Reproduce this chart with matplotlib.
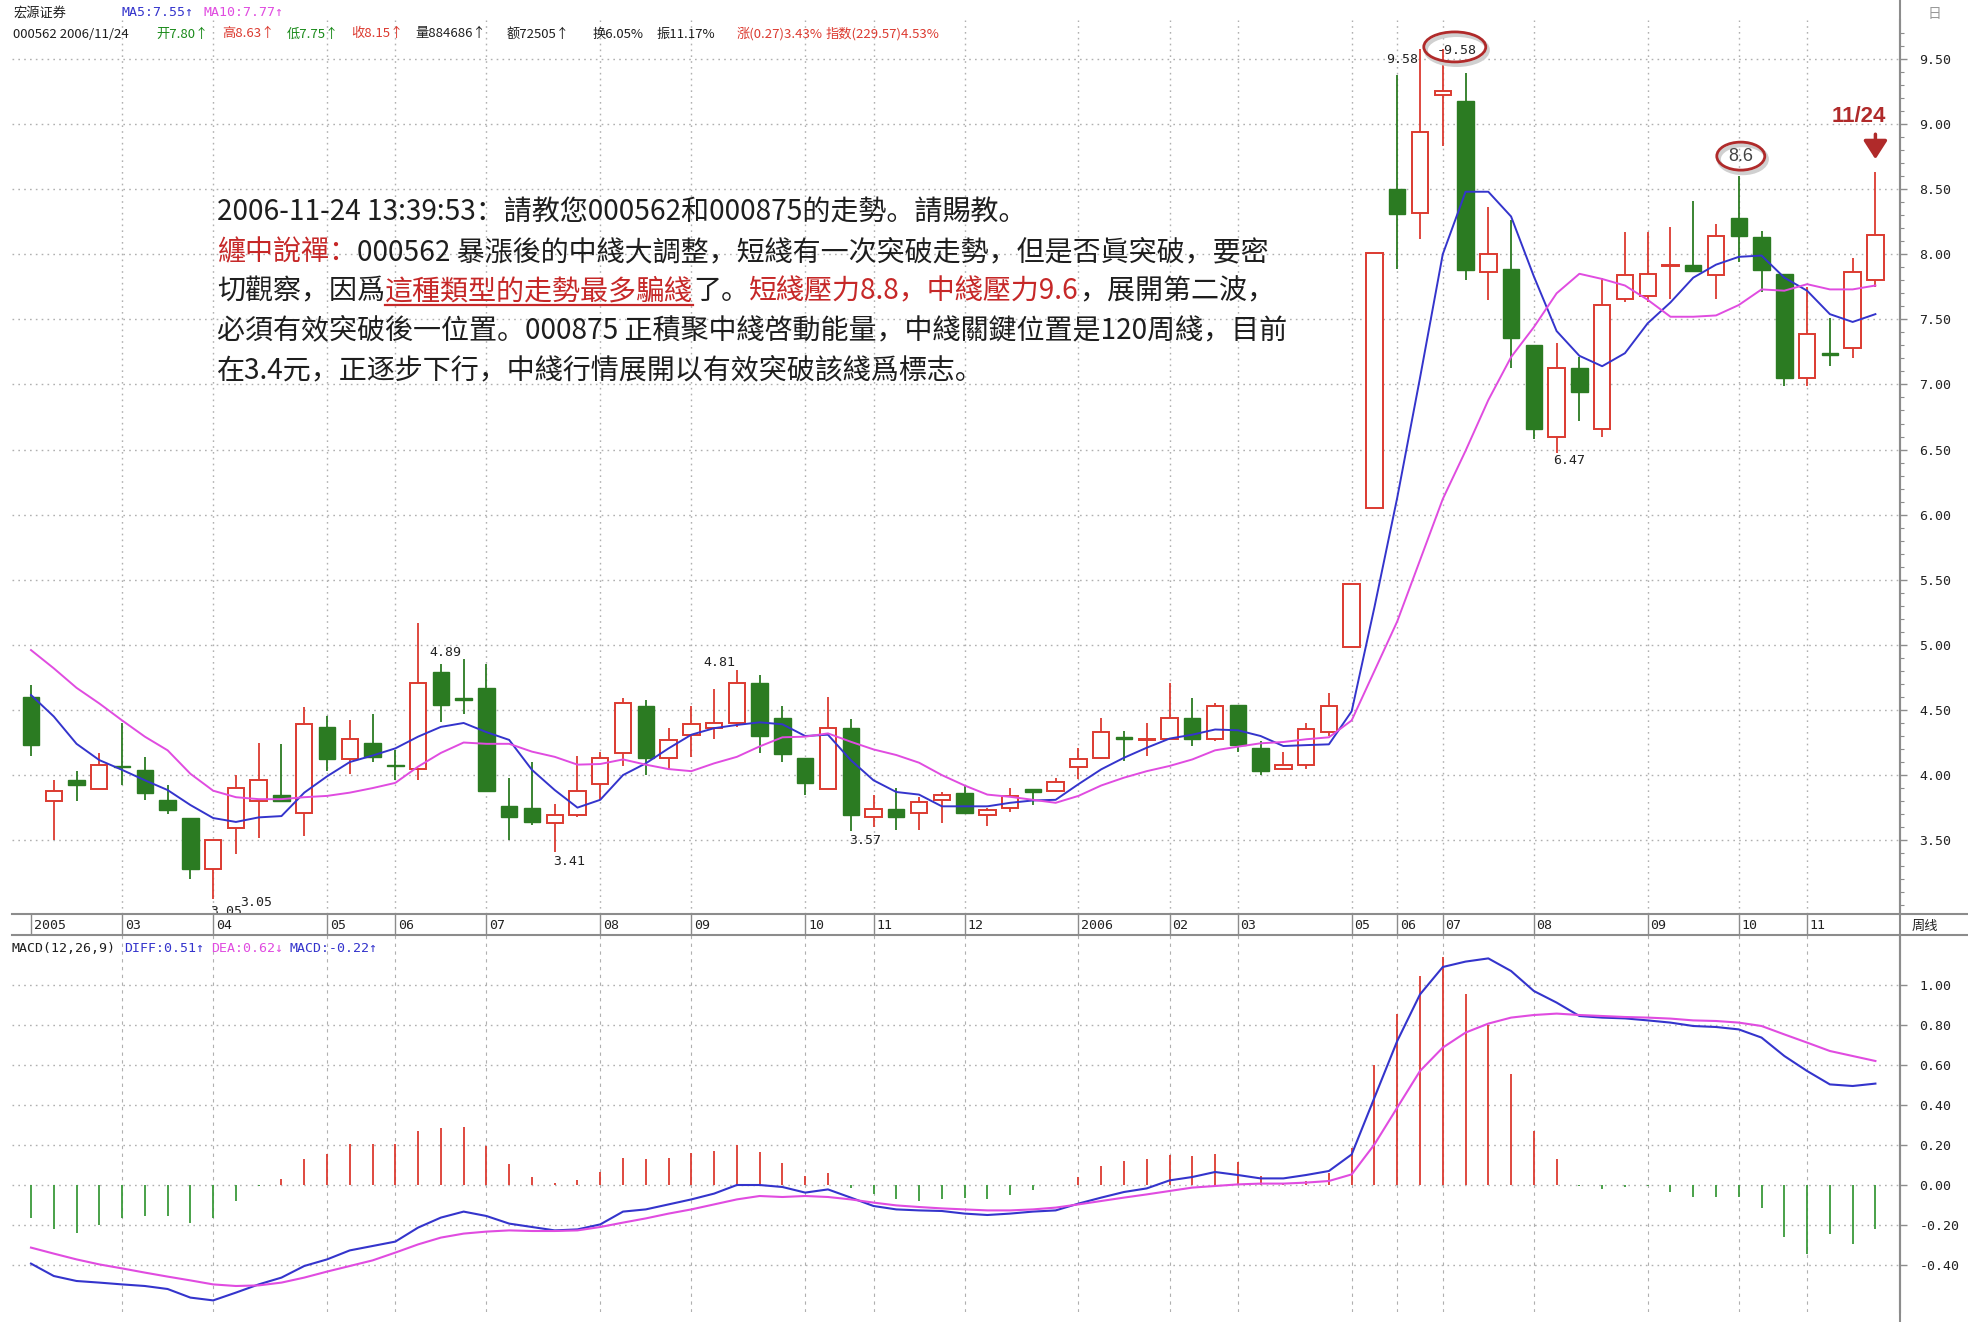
import numpy as np
import matplotlib
matplotlib.use("Agg")
import matplotlib.pyplot as plt
from matplotlib.patches import Ellipse
from matplotlib.lines import Line2D
from matplotlib.ticker import MultipleLocator
from matplotlib.font_manager import FontProperties

# ---------------- data ----------------
opens = [4.60, 3.80, 3.96, 3.89, 4.07, 4.04, 3.81, 3.67, 3.28, 3.59,
         3.80, 3.85, 3.71, 4.37, 4.12, 4.25, 4.08, 4.05, 4.79, 4.59,
         4.67, 3.76, 3.75, 3.63, 3.69, 3.93, 4.17, 4.53, 4.13, 4.31,
         4.36, 4.40, 4.71, 4.44, 4.13, 3.89, 4.36, 3.68, 3.74, 3.71,
         3.81, 3.86, 3.69, 3.75, 3.89, 3.88, 4.06, 4.13, 4.29, 4.27,
         4.28, 4.44, 4.28, 4.54, 4.21, 4.05, 4.08, 4.33, 4.98, 6.05,
         8.50, 8.32, 9.22, 9.18, 7.86, 7.89, 7.30, 6.60, 7.13, 6.66,
         7.66, 7.68, 7.91, 7.92, 7.84, 8.28, 8.13, 7.85, 7.05, 7.24,
         7.28, 7.80]
highs = [4.69, 3.96, 4.03, 4.17, 4.40, 4.14, 3.92, 3.67, 3.50, 4.00,
         4.25, 4.24, 4.52, 4.45, 4.42, 4.47, 4.19, 5.17, 4.85, 4.89,
         4.85, 3.98, 4.10, 3.78, 4.15, 4.18, 4.59, 4.58, 4.36, 4.53,
         4.66, 4.81, 4.77, 4.53, 4.13, 4.60, 4.43, 3.85, 3.90, 3.83,
         3.87, 3.92, 3.75, 3.90, 3.89, 3.98, 4.21, 4.44, 4.34, 4.40,
         4.71, 4.59, 4.55, 4.54, 4.26, 4.18, 4.40, 4.63, 5.47, 8.01,
         9.38, 9.58, 9.58, 9.39, 8.36, 8.26, 7.30, 7.32, 7.21, 7.82,
         8.17, 8.17, 8.21, 8.41, 8.23, 8.60, 8.18, 7.85, 7.75, 7.51,
         7.97, 8.63]
lows = [4.15, 3.50, 3.80, 3.89, 3.92, 3.81, 3.70, 3.20, 3.05, 3.39,
        3.52, 3.80, 3.53, 4.03, 4.01, 4.10, 3.96, 3.96, 4.41, 4.47,
        3.88, 3.50, 3.62, 3.41, 3.68, 3.81, 4.07, 4.00, 4.05, 4.14,
        4.28, 4.37, 4.17, 4.10, 3.85, 3.89, 3.57, 3.60, 3.58, 3.58,
        3.63, 3.71, 3.61, 3.72, 3.77, 3.87, 3.97, 4.12, 4.11, 4.15,
        4.28, 4.22, 4.26, 4.18, 4.00, 4.04, 4.05, 4.30, 4.98, 6.05,
        7.89, 8.12, 8.83, 7.80, 7.65, 7.13, 6.58, 6.47, 6.72, 6.60,
        7.63, 7.63, 7.66, 7.87, 7.66, 7.94, 7.71, 6.99, 6.99, 7.14,
        7.20, 7.75]
closes = [4.23, 3.88, 3.92, 4.08, 4.06, 3.86, 3.73, 3.28, 3.50, 3.90,
          3.96, 3.80, 4.39, 4.12, 4.28, 4.14, 4.07, 4.71, 4.54, 4.58,
          3.88, 3.68, 3.64, 3.69, 3.88, 4.13, 4.55, 4.13, 4.27, 4.39,
          4.40, 4.71, 4.30, 4.16, 3.94, 4.36, 3.69, 3.74, 3.68, 3.79,
          3.85, 3.71, 3.73, 3.84, 3.87, 3.95, 4.12, 4.33, 4.28, 4.28,
          4.44, 4.28, 4.53, 4.23, 4.03, 4.08, 4.35, 4.53, 5.47, 8.01,
          8.31, 8.94, 9.25, 7.88, 8.00, 7.36, 6.66, 7.13, 6.94, 7.61,
          7.84, 7.85, 7.92, 7.87, 8.14, 8.14, 7.88, 7.05, 7.39, 7.23,
          7.86, 8.15]
ma5 = [4.615, 4.45, 4.24, 4.115, 4.04, 3.96, 3.885, 3.77, 3.67, 3.64,
       3.675, 3.685, 3.865, 3.99, 4.10, 4.15, 4.205, 4.295, 4.37, 4.40,
       4.33, 4.27, 4.04, 3.885, 3.75, 3.81, 4.00, 4.09, 4.205, 4.31,
       4.36, 4.385, 4.405, 4.39, 4.30, 4.31, 4.115, 3.96, 3.87, 3.85,
       3.76, 3.76, 3.76, 3.787, 3.805, 3.81, 3.93, 4.044, 4.133, 4.21,
       4.28, 4.31, 4.35, 4.344, 4.30, 4.223, 4.23, 4.236, 4.49, 5.29,
       6.13, 7.05, 8.00, 8.48, 8.48, 8.29, 7.83, 7.41, 7.22, 7.14,
       7.24, 7.47, 7.63, 7.82, 7.92, 7.98, 7.99, 7.82, 7.72, 7.54,
       7.48, 7.54]
ma10 = [4.96, 4.82, 4.67, 4.55, 4.42, 4.295, 4.19, 4.01, 3.88, 3.83,
        3.815, 3.815, 3.83, 3.84, 3.865, 3.90, 3.94, 4.065, 4.17, 4.25,
        4.24, 4.24, 4.18, 4.14, 4.08, 4.085, 4.12, 4.08, 4.046, 4.03,
        4.09, 4.14, 4.22, 4.29, 4.295, 4.32, 4.256, 4.197, 4.154, 4.095,
        4.00, 3.92, 3.85, 3.833, 3.81, 3.787, 3.84, 3.92, 3.98, 4.03,
        4.07, 4.12, 4.19, 4.218, 4.244, 4.254, 4.275, 4.29, 4.42, 4.80,
        5.18, 5.65, 6.12, 6.49, 6.88, 7.21, 7.44, 7.70, 7.85, 7.81,
        7.76, 7.65, 7.52, 7.52, 7.53, 7.61, 7.73, 7.72, 7.77, 7.73,
        7.73, 7.76]
diff = [-0.393, -0.455, -0.48, -0.488, -0.497, -0.505, -0.52, -0.563, -0.577, -0.538,
        -0.497, -0.463, -0.405, -0.372, -0.327, -0.305, -0.283, -0.213, -0.163, -0.133,
        -0.155, -0.193, -0.21, -0.227, -0.222, -0.197, -0.133, -0.122, -0.097, -0.072,
        -0.043, 0.0, 0.0, -0.01, -0.038, -0.022, -0.063, -0.105, -0.122, -0.127,
        -0.13, -0.143, -0.15, -0.143, -0.133, -0.127, -0.093, -0.063, -0.035, -0.017,
        0.023, 0.04, 0.065, 0.05, 0.033, 0.033, 0.05, 0.07, 0.153, 0.437,
        0.72, 0.953, 1.09, 1.117, 1.133, 1.07, 0.97, 0.912, 0.845, 0.837,
        0.833, 0.823, 0.812, 0.795, 0.79, 0.778, 0.737, 0.645, 0.57, 0.503,
        0.495, 0.507]
dea = [-0.313, -0.343, -0.372, -0.397, -0.417, -0.438, -0.458, -0.477, -0.497, -0.505,
       -0.502, -0.488, -0.463, -0.433, -0.405, -0.377, -0.338, -0.297, -0.263, -0.243,
       -0.233, -0.227, -0.23, -0.23, -0.227, -0.21, -0.188, -0.167, -0.143, -0.122,
       -0.097, -0.072, -0.055, -0.06, -0.055, -0.06, -0.072, -0.088, -0.102, -0.11,
       -0.117, -0.122, -0.127, -0.127, -0.122, -0.113, -0.097, -0.08, -0.063, -0.047,
       -0.03, -0.013, -0.005, 0.003, 0.007, 0.007, 0.012, 0.02, 0.053, 0.203,
       0.387, 0.57, 0.687, 0.762, 0.807, 0.837, 0.85, 0.857, 0.85, 0.845,
       0.84, 0.837, 0.832, 0.823, 0.82, 0.812, 0.795, 0.753, 0.712, 0.67,
       0.645, 0.62]
macd_hist = [-0.163, -0.22, -0.24, -0.20, -0.163, -0.155, -0.155, -0.19, -0.163, -0.08,
             -0.005, 0.028, 0.13, 0.157, 0.207, 0.207, 0.203, 0.27, 0.287, 0.29,
             0.195, 0.103, 0.04, 0.012, 0.023, 0.065, 0.137, 0.132, 0.137, 0.158,
             0.17, 0.198, 0.165, 0.108, 0.045, 0.062, -0.013, -0.047, -0.072, -0.08,
             -0.072, -0.063, -0.072, -0.052, -0.027, 0.0, 0.04, 0.095, 0.12, 0.128,
             0.15, 0.145, 0.153, 0.117, 0.045, 0.012, 0.02, 0.06, 0.187, 0.60,
             0.857, 1.045, 1.14, 0.953, 0.80, 0.553, 0.27, 0.128, -0.005, -0.022,
             -0.01, -0.005, -0.033, -0.06, -0.06, -0.06, -0.113, -0.26, -0.347, -0.247,
             -0.293, -0.222]
month_idx = [0, 4, 8, 13, 16, 20, 25, 29, 34, 37, 41, 46, 50, 53, 58, 60, 62, 66, 71, 75, 78]
month_labels = ['2005', '03', '04', '05', '06', '07', '08', '09', '10', '11', '12',
                '2006', '02', '03', '05', '06', '07', '08', '09', '10', '11']
price_ticks = [3.5, 4.0, 4.5, 5.0, 5.5, 6.0, 6.5, 7.0, 7.5, 8.0, 8.5, 9.0, 9.5]
macd_ticks = [-0.4, -0.2, 0.0, 0.2, 0.4, 0.6, 0.8, 1.0]

# ---------------- figure / style ----------------
W, H = 1968, 1322
fig = plt.figure(figsize=(W / 100, H / 100), dpi=100)
fig.patch.set_facecolor('white')

RED = '#dc3a30'
GREEN = '#2b7b22'
BLUE = '#3434cc'
MAG = '#e04ce0'
GRID = '#b0b0b0'
AXC = '#8c8c8c'
DARKRED = '#b02a2a'
TXT = '#1e1e1e'
MONO = ['DejaVu Sans Mono', 'DejaVu Sans']
CJK = ['Noto Sans CJK SC', 'DejaVu Sans']


def frect(x0, y0, x1, y1):
    return [x0 / W, 1 - y1 / H, (x1 - x0) / W, (y1 - y0) / H]


XL = (-0.834, 82.08)
YL = (2.933, 9.799)
ML = (-0.635, 1.25)
DOT = (0, (1.2, 3))

n = len(closes)
x = np.arange(n)
o = np.array(opens); c = np.array(closes); h = np.array(highs); l = np.array(lows)

# ---------------- price panel ----------------
ax = fig.add_axes(frect(12, 20, 1900, 914))
for s in ['top', 'left', 'bottom']:
    ax.spines[s].set_visible(False)
ax.spines['right'].set_color(AXC)
ax.spines['right'].set_linewidth(1.5)
ax.hlines(price_ticks, XL[0], XL[1], colors=GRID, linestyles=DOT, lw=1, zorder=0)
ax.vlines(month_idx[1:], YL[0], YL[1], colors=GRID, linestyles=DOT, lw=1, zorder=0)

up = c >= o
blo = np.minimum(o, c)
bhi = np.maximum(o, c)
hgt = np.maximum(bhi - blo, 0.004)
cols = np.where(up, RED, GREEN)
ax.vlines(x, l, blo, colors=cols, lw=1.3, zorder=2)
ax.vlines(x, bhi, h, colors=cols, lw=1.3, zorder=2)
ax.bar(x[up], hgt[up], bottom=blo[up], width=0.72, facecolor='white',
       edgecolor=RED, linewidth=1.4, zorder=3)
ax.bar(x[~up], hgt[~up], bottom=blo[~up], width=0.72, facecolor=GREEN,
       edgecolor=GREEN, linewidth=1.0, zorder=3)
ax.plot(x, ma5, color=BLUE, lw=1.4, zorder=4)
ax.plot(x, ma10, color=MAG, lw=1.4, zorder=4)

ax.set_xlim(*XL)
ax.set_ylim(*YL)
ax.set_xticks([])
ax.yaxis.tick_right()
ax.set_yticks(price_ticks)
ax.set_yticklabels([f'{v:.2f}' for v in price_ticks], family=MONO)
ax.yaxis.set_minor_locator(MultipleLocator(0.1))
ax.tick_params(axis='y', which='major', length=5, width=1, color=AXC, pad=9,
               labelsize=9.5, labelcolor='#222')
ax.tick_params(axis='y', which='minor', length=3, width=0.8, color=AXC)

# pixel -> data scale in the price panel
PX = (XL[1] - XL[0]) / 1888.0
PY = (YL[1] - YL[0]) / 894.0


def plabel(i, val, s, dx, dy, ha='left', size=9.5, family=MONO, color='#222', **kw):
    ax.annotate(s, xy=(i, val), xytext=(dx, dy), textcoords='offset pixels',
                ha=ha, va='center', fontsize=size, family=family, color=color,
                annotation_clip=False, zorder=6, **kw)


plabel(8, lows[8], '3.05', -3, -13)
plabel(8, lows[8], '3.05', 27, -4)
plabel(19, highs[19], '4.89', -2, 7, ha='right')
plabel(23, lows[23], '3.41', -2, -10)
plabel(31, highs[31], '4.81', -2, 7, ha='right')
plabel(36, lows[36], '3.57', -2, -9)
plabel(61, highs[61], '9.58', -2, -11, ha='right')
plabel(62, highs[62], '-9.58', -6, -2)
plabel(67, lows[67], '6.47', -3, -7)
plabel(75, highs[75], '8.6', 2, 20, ha='center', size=13,
       family=['Liberation Sans', 'DejaVu Sans'], color='#444')
plabel(81, highs[81], '11/24', -17, 56, ha='center', size=16,
       family=['Liberation Sans', 'DejaVu Sans'], color=DARKRED, fontweight='bold')

for (ci, cx_off, cy_off, ew, eh) in [(62, 12, 1.6, 62, 30), (75, 2, 20, 48, 28)]:
    shadow = Ellipse((ci + (cx_off + 2) * PX, highs[ci] + (cy_off - 3) * PY), ew * PX, eh * PY,
                     fill=False, edgecolor='#d0d0d0', lw=3, zorder=5)
    ax.add_patch(shadow)
    e = Ellipse((ci + cx_off * PX, highs[ci] + cy_off * PY), ew * PX, eh * PY,
                fill=False, edgecolor=DARKRED, lw=2, zorder=6)
    ax.add_patch(e)

ax.annotate('', xy=(81, highs[81] + 13 * PY), xytext=(81, highs[81] + 38 * PY),
            arrowprops=dict(arrowstyle='-|>,head_width=0.45,head_length=0.7',
                            color=DARKRED, lw=2.5, mutation_scale=16,
                            shrinkA=0, shrinkB=0),
            annotation_clip=False, zorder=6)

# ---------------- date strip ----------------
axs = fig.add_axes(frect(12, 914, 1900, 935))
axs.set_xlim(*XL)
axs.set_ylim(0, 1)
axs.axis('off')
axs.vlines(month_idx, 0, 1, colors=AXC, lw=1)
for i, lab in zip(month_idx, month_labels):
    axs.text(i + 0.12, 0.45, lab, ha='left', va='center', fontsize=9.5,
             family=MONO, color='#222')
for yy in (914, 935):
    fig.add_artist(Line2D([12 / W, 1968 / W], [1 - yy / H] * 2, color=AXC, lw=1.5))
fig.text(1912 / W, 1 - 926 / H, '周线', fontsize=9.5, family=CJK, color='#222',
         ha='left', va='center')

# ---------------- MACD panel ----------------
ax2 = fig.add_axes(frect(12, 935, 1900, 1312))
for s in ['top', 'left', 'bottom']:
    ax2.spines[s].set_visible(False)
ax2.spines['right'].set_color(AXC)
ax2.spines['right'].set_linewidth(1.5)
ax2.hlines(macd_ticks, XL[0], XL[1], colors=GRID, linestyles=DOT, lw=1, zorder=0)
ax2.vlines(month_idx[1:], ML[0], ML[1], colors=GRID, linestyles=(0, (3, 4)), lw=0.8, zorder=0)
hist = np.array(macd_hist)
ax2.vlines(x, 0, hist, colors=np.where(hist >= 0, RED, '#3a9a3a'), lw=1.3, zorder=2)
ax2.plot(x, diff, color=BLUE, lw=1.5, zorder=3)
ax2.plot(x, dea, color=MAG, lw=1.5, zorder=3)
ax2.set_xlim(*XL)
ax2.set_ylim(*ML)
ax2.set_xticks([])
ax2.yaxis.tick_right()
ax2.set_yticks(macd_ticks)
ax2.set_yticklabels([f'{v:.2f}' for v in macd_ticks], family=MONO)
ax2.tick_params(axis='y', length=5, width=1, color=AXC, pad=9, labelsize=9.5, labelcolor='#222')

fig.add_artist(Line2D([1900 / W, 1900 / W], [0, 1], color=AXC, lw=1.5))

# ---------------- header texts ----------------
def ftxt(xp, yp, s, color, size=9.5, family=CJK, **kw):
    return fig.text(xp / W, 1 - yp / H, s, color=color, fontsize=size, family=family,
                    va='center', ha='left', **kw)


ftxt(13, 13, '宏源证券', TXT)
ftxt(121, 13, 'MA5:7.55↑', BLUE, size=9.5, family=MONO)
ftxt(203, 13, 'MA10:7.77↑', MAG, size=9.5, family=MONO)
ftxt(13, 34, '000562 2006/11/24', TXT)
ftxt(156, 34, '开7.80↑', '#1a8a1a')
ftxt(222, 34, '高8.63↑', RED)
ftxt(287, 34, '低7.75↑', '#1a8a1a')
ftxt(351, 34, '收8.15↑', RED)
ftxt(415, 34, '量884686↑', TXT)
ftxt(507, 34, '额72505↑', TXT)
ftxt(593, 34, '换6.05%', TXT)
ftxt(657, 34, '振11.17%', TXT)
ftxt(737, 34, '涨(0.27)3.43%', RED)
ftxt(826, 34, '指数(229.57)4.53%', RED)
fig.text(1935 / W, 1 - 14 / H, '日', fontsize=10, family=CJK, color='#999', ha='center', va='center')

ftxt(12, 948, 'MACD(12,26,9)', TXT, size=9.5, family=MONO)
ftxt(124, 948, 'DIFF:0.51↑', BLUE, size=9.5, family=MONO)
ftxt(211, 948, 'DEA:0.62↓', MAG, size=9.5, family=MONO)
ftxt(289, 948, 'MACD:-0.22↑', BLUE, size=9.5, family=MONO)

# ---------------- commentary block ----------------
renderer = fig.canvas.get_renderer()
BIG = 20.2
bigfp = FontProperties(family=CJK, size=BIG)


def tw(s):
    w, _, _ = renderer.get_text_width_height_descent(s, bigfp, ismath=False)
    return w


TRED = '#c62828'
lines = [
    [('2006-11-24 13:39:53：請教您000562和000875的走勢。請賜教。', TXT, False)],
    [('纏中說禪：', TRED, False),
     ('000562 暴漲後的中綫大調整，短綫有一次突破走勢，但是否眞突破，要密', TXT, False)],
    [('切觀察，因爲', TXT, False), ('這種類型的走勢最多騙綫', TRED, True), ('了。', TXT, False),
     ('短綫壓力8.8，中綫壓力9.6', TRED, False), ('，展開第二波，', TXT, False)],
    [('必須有效突破後一位置。000875 正積聚中綫啓動能量，中綫關鍵位置是120周綫，目前', TXT, False)],
    [('在3.4元，正逐步下行，中綫行情展開以有效突破該綫爲標志。', TXT, False)],
]
baselines = [221, 260, 299, 338, 378]
X0 = 217
for segs, yb in zip(lines, baselines):
    prefix = ''
    for s, col, ul in segs:
        xs = X0 + (tw(prefix + s[0]) - tw(s[0]) if prefix else 0)
        fig.text(xs / W, 1 - yb / H, s, color=col, fontsize=BIG, family=CJK,
                 ha='left', va='baseline')
        if ul:
            xe = X0 + tw(prefix + s + '了') - tw('了')
            fig.add_artist(Line2D([xs / W, xe / W], [1 - (yb + 6) / H] * 2, color=col, lw=1.6))
        prefix += s

fig.savefig('out.png', dpi=100, facecolor='white')
